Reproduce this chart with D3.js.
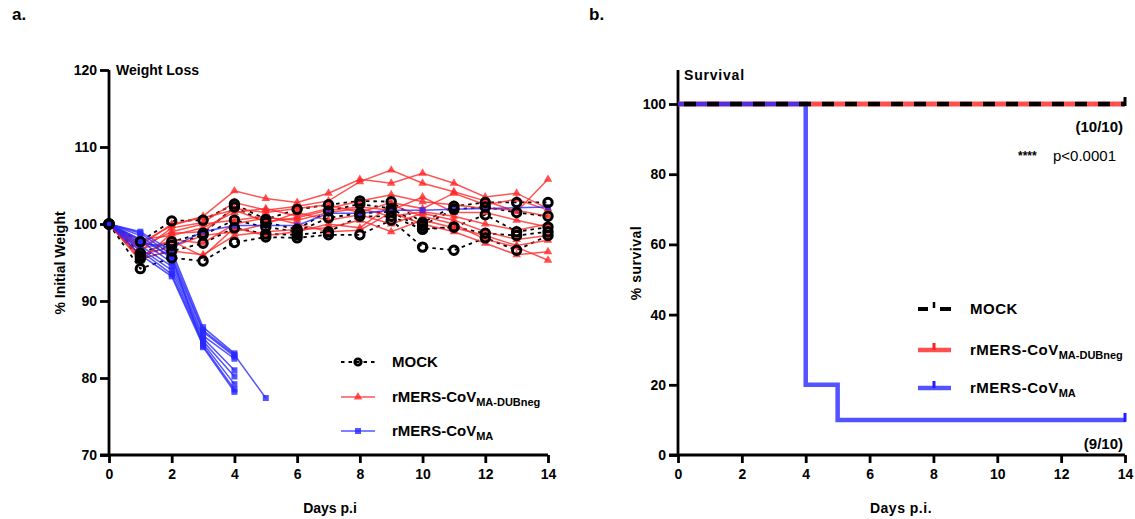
<!DOCTYPE html>
<html>
<head>
<meta charset="utf-8">
<script src="https://d3js.org/d3.v7.min.js"></script>
<style>
  body { margin: 0; background: #fff; }
  svg text { font-family: "Liberation Sans", Arial, sans-serif; font-weight: bold; }
</style>
</head>
<body>
<svg id="chart"></svg>
<script>
// ---- data ----
var days = [0,1,2,3,4,5,6,7,8,9,10,11,12,13,14];
var xTicks = [0,2,4,6,8,10,12,14];
var weightTicks = [70,80,90,100,110,120];
var survTicks = [0,20,40,60,80,100];

var mock = [
  [100,97.7,100.4,100.5,102.6,100.6,101.9,102.5,103.0,102.9,100.2,102.3,102.8,102.8,102.8],
  [100,96.2,97.7,98.8,102.2,100.2,99.3,101.7,102.6,102.0,99.8,101.9,102.2,101.5,101.0],
  [100,95.8,97.2,98.6,100.5,99.6,99.0,100.8,101.4,101.6,99.4,99.6,101.2,99.0,99.6],
  [100,95.5,96.5,97.5,99.5,98.7,98.6,99.0,101.0,101.0,99.3,99.6,98.8,98.5,99.0],
  [100,94.2,95.6,95.2,97.6,98.3,98.2,98.6,98.6,100.5,97.0,96.6,98.2,96.6,98.5]
];
var dubneg = [
  [100,97.5,99.8,101.0,104.3,103.3,102.8,104.0,105.8,105.3,106.6,105.3,103.5,104.0,102.0],
  [100,96.5,99.5,100.2,102.8,101.8,102.3,103.0,105.5,107.0,105.3,104.2,103.0,101.6,105.8],
  [100,98.0,98.5,99.5,101.5,102.0,101.0,102.0,103.0,103.8,102.9,102.5,102.0,101.8,101.0],
  [100,95.8,98.0,97.5,100.0,100.8,100.5,101.5,102.0,101.0,101.6,101.0,100.0,99.2,100.0],
  [100,96.0,97.0,98.5,99.0,100.0,101.5,100.5,101.2,100.0,101.4,100.5,99.0,98.0,98.5],
  [100,95.5,96.5,96.0,98.5,99.0,99.3,99.5,100.5,99.0,100.5,99.5,98.5,97.2,97.9],
  [100,97.0,99.0,100.0,100.5,101.0,100.0,99.0,99.2,101.5,100.0,99.0,97.5,96.0,96.4],
  [100,96.8,97.8,95.8,99.5,98.5,99.0,100.0,99.5,102.5,101.0,100.0,98.0,97.0,95.3],
  [100,95.2,98.8,99.0,102.0,101.5,102.0,102.5,101.5,102.8,102.0,104.0,102.5,103.2,101.8],
  [100,97.2,100.0,100.8,101.8,100.3,100.8,101.8,102.2,101.8,103.5,101.5,101.5,100.5,99.6]
];
var ma = [
  [100,99.0,96.5,86.6,83.2],
  [100,98.5,95.5,86.0,82.8],
  [100,97.8,95.0,85.5,82.5],
  [100,97.2,94.5,85.2,81.0],
  [100,96.8,94.0,84.8,80.2],
  [100,96.5,93.5,84.5,79.2],
  [100,96.0,93.2,84.2,78.5],
  [100,98.0,95.8,84.0,78.2],
  [100,98.8,96.0,86.2,83.0,77.4],
  [100,97.5,97.0,99.0,99.8,99.8,99.8,101.4,101.4,101.8,101.8,101.9,102.0,102.1,102.2]
];

var survDays = [0,4,5,14];
var survMock = [100,100,100,100];
var survDub = [100,100,100,100];
var survMA = [100,20,10,10];

var RED = "rgba(255,40,40,0.8)";
var BLUE = "rgba(40,40,255,0.8)";

var svg = d3.select("#chart").attr("width", 1135).attr("height", 519);

function axes(g, x, y, yTicks, yTop) {
  var ax = g.append("g").attr("transform", "translate(0," + y.range()[0] + ")")
    .call(d3.axisBottom(x).tickValues(xTicks).tickSize(8).tickPadding(6).tickFormat(d3.format("d")));
  var ay = g.append("g").attr("transform", "translate(" + x.range()[0] + ",0)")
    .call(d3.axisLeft(y).tickValues(yTicks).tickSize(9).tickPadding(3).tickFormat(d3.format("d")));
  [ax, ay].forEach(function(a) {
    a.select(".domain").attr("stroke-width", 2.8).attr("stroke", "#000");
    a.selectAll(".tick line").attr("stroke-width", 2.8).attr("stroke", "#000");
    a.selectAll(".tick text").attr("font-size", 14).attr("fill", "#000");
  });
  ax.select(".domain").attr("d", "M" + (x.range()[0] - 9) + ",0H" + x.range()[1]);
  ay.select(".domain").attr("d", "M0," + y.range()[0] + "V" + yTop);
}

// ---- panel a: weight ----
var xA = d3.scaleLinear().domain([0,14]).range([109,548]);
var yA = d3.scaleLinear().domain([70,120]).range([455,70]);
var gA = svg.append("g");
axes(gA, xA, yA, weightTicks, 70);

var lineA = d3.line().x(function(d, i) { return xA(days[i]); }).y(function(d) { return yA(d); });

gA.selectAll(".mock").data(mock).enter().append("path")
  .attr("d", lineA).attr("fill", "none").attr("stroke", "#000")
  .attr("stroke-width", 1.8).attr("stroke-dasharray", "3.5,4");
gA.selectAll(".dub").data(dubneg).enter().append("path")
  .attr("d", lineA).attr("fill", "none").attr("stroke", RED).attr("stroke-width", 1.5);
gA.selectAll(".ma").data(ma).enter().append("path")
  .attr("d", lineA).attr("fill", "none").attr("stroke", BLUE).attr("stroke-width", 1.5);

var tri = d3.symbol().type(d3.symbolTriangle).size(32);
dubneg.forEach(function(s) {
  gA.selectAll(null).data(s).enter().append("path").attr("d", tri)
    .attr("transform", function(d, i) { return "translate(" + xA(days[i]) + "," + yA(d) + ")"; })
    .attr("fill", RED);
});
ma.forEach(function(s) {
  gA.selectAll(null).data(s).enter().append("rect")
    .attr("x", function(d, i) { return xA(days[i]) - 3; }).attr("y", function(d) { return yA(d) - 3; })
    .attr("width", 6).attr("height", 6).attr("fill", BLUE);
});
mock.forEach(function(s) {
  gA.selectAll(null).data(s).enter().append("circle")
    .attr("cx", function(d, i) { return xA(days[i]); }).attr("cy", function(d) { return yA(d); })
    .attr("r", 4.2).attr("fill", "none").attr("stroke", "#000").attr("stroke-width", 3);
});

gA.append("text").attr("x", 116).attr("y", 75).attr("font-size", 14).text("Weight Loss");
gA.append("text").attr("transform", "translate(65,263) rotate(-90)").attr("text-anchor", "middle")
  .attr("font-size", 14).text("% Initial Weight");
gA.append("text").attr("x", 330).attr("y", 513).attr("text-anchor", "middle").attr("font-size", 14).text("Days p.i");
svg.append("text").attr("x", 12).attr("y", 20).attr("font-size", 17).text("a.");
svg.append("text").attr("x", 589).attr("y", 20).attr("font-size", 17).text("b.");

// legend a
var legA = [
  {name: "MOCK", sub: "", y: 362},
  {name: "rMERS-CoV", sub: "MA-DUBneg", y: 397},
  {name: "rMERS-CoV", sub: "MA", y: 431}
];
legA.forEach(function(l, i) {
  var gl = gA.append("g");
  if (i === 0) {
    gl.append("line").attr("x1", 341).attr("x2", 375).attr("y1", l.y).attr("y2", l.y)
      .attr("stroke", "#000").attr("stroke-width", 1.8).attr("stroke-dasharray", "3.5,4");
    gl.append("circle").attr("cx", 358).attr("cy", l.y).attr("r", 3.2).attr("fill", "none")
      .attr("stroke", "#000").attr("stroke-width", 2.8);
  } else {
    var c = i === 1 ? RED : BLUE;
    gl.append("line").attr("x1", 341).attr("x2", 375).attr("y1", l.y).attr("y2", l.y)
      .attr("stroke", c).attr("stroke-width", 1.5);
    if (i === 1) gl.append("path").attr("d", tri).attr("transform", "translate(358," + l.y + ")").attr("fill", c);
    else gl.append("rect").attr("x", 355).attr("y", l.y - 3).attr("width", 6).attr("height", 6).attr("fill", c);
  }
  var t = gl.append("text").attr("x", 392).attr("y", l.y + 5).attr("font-size", 15).text(l.name);
  if (l.sub) t.append("tspan").attr("font-size", 11).attr("dy", 4).text(l.sub);
});

// ---- panel b: survival ----
var xB = d3.scaleLinear().domain([0,14]).range([678,1125]);
var yB = d3.scaleLinear().domain([0,100]).range([455,104]);
var gB = svg.append("g");
axes(gB, xB, yB, survTicks, 70);

var lineB = d3.line().curve(d3.curveStepAfter)
  .x(function(d, i) { return xB(survDays[i]); }).y(function(d) { return yB(d); });

gB.append("path").attr("d", lineB(survDub)).attr("fill", "none").attr("stroke", "rgba(255,60,60,0.9)").attr("stroke-width", 5);
gB.append("path").attr("d", lineB(survMA)).attr("fill", "none").attr("stroke", BLUE).attr("stroke-width", 4.5);
gB.append("path").attr("d", lineB(survMock)).attr("fill", "none").attr("stroke", "#000")
  .attr("stroke-width", 4.5).attr("stroke-dasharray", "12,11").attr("stroke-dashoffset", -6);
// censor ticks
gB.append("line").attr("x1", xB(14)).attr("x2", xB(14)).attr("y1", yB(100) + 2).attr("y2", yB(100) - 7)
  .attr("stroke", "#000").attr("stroke-width", 3);
gB.append("line").attr("x1", xB(14)).attr("x2", xB(14)).attr("y1", yB(10) + 2).attr("y2", yB(10) - 7)
  .attr("stroke", "#2020ff").attr("stroke-width", 3);

gB.append("text").attr("x", 684).attr("y", 80).attr("font-size", 14).attr("letter-spacing", 0.8).text("Survival");
gB.append("text").attr("transform", "translate(641,263) rotate(-90)").attr("text-anchor", "middle")
  .attr("font-size", 14).attr("letter-spacing", 0.5).text("% survival");
gB.append("text").attr("x", 901).attr("y", 513).attr("text-anchor", "middle").attr("font-size", 14).attr("letter-spacing", 0.5).text("Days p.i.");
gB.append("text").attr("x", 1123).attr("y", 132).attr("text-anchor", "end").attr("font-size", 15).text("(10/10)");
gB.append("text").attr("x", 1018).attr("y", 160).attr("font-size", 12).text("****");
gB.append("text").attr("x", 1053).attr("y", 161).attr("font-size", 15)
  .style("font-weight", "normal").text("p<0.0001");
gB.append("text").attr("x", 1123).attr("y", 449).attr("text-anchor", "end").attr("font-size", 15).text("(9/10)");

var legB = [
  {name: "MOCK", sub: "", y: 309, c: "#000"},
  {name: "rMERS-CoV", sub: "MA-DUBneg", y: 350, c: "rgba(255,60,60,0.9)"},
  {name: "rMERS-CoV", sub: "MA", y: 388, c: BLUE}
];
legB.forEach(function(l, i) {
  var gl = gB.append("g");
  if (i === 0) {
    gl.append("line").attr("x1", 918).attr("x2", 928).attr("y1", l.y).attr("y2", l.y).attr("stroke", "#000").attr("stroke-width", 4);
    gl.append("line").attr("x1", 940).attr("x2", 951).attr("y1", l.y).attr("y2", l.y).attr("stroke", "#000").attr("stroke-width", 4);
    gl.append("line").attr("x1", 934).attr("x2", 934).attr("y1", l.y - 7).attr("y2", l.y - 1).attr("stroke", "#000").attr("stroke-width", 2.5);
  } else {
    gl.append("line").attr("x1", 918).attr("x2", 951).attr("y1", l.y).attr("y2", l.y).attr("stroke", l.c).attr("stroke-width", 4.5);
    gl.append("line").attr("x1", 934).attr("x2", 934).attr("y1", l.y - 7).attr("y2", l.y)
      .attr("stroke", i === 1 ? "#ff2020" : "#2020ff").attr("stroke-width", 3);
  }
  var t = gl.append("text").attr("x", 970).attr("y", l.y + 5).attr("font-size", 15).attr("letter-spacing", 0.5).text(l.name);
  if (l.sub) t.append("tspan").attr("font-size", 11).attr("dy", 4).attr("letter-spacing", 0).text(l.sub);
});
</script>
</body>
</html>
